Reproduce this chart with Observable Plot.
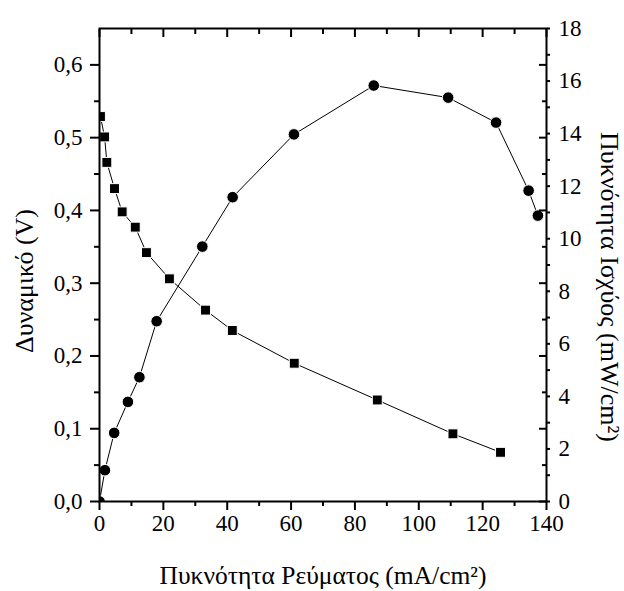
<!DOCTYPE html>
<html><head><meta charset="utf-8">
<script src="https://cdn.jsdelivr.net/npm/d3@7"></script>
<script src="https://cdn.jsdelivr.net/npm/@observablehq/plot@0.6"></script>
<style>
body{margin:0;background:#fff}
</style>
</head><body><div id="chart"></div>
<script>
// Voltage curve (left axis, squares)
const currentV = [0.3, 1.6, 2.3, 4.7, 7.1, 11.2, 14.7, 21.9, 33.2, 41.6, 61.0, 87.0, 110.7, 125.6];
const voltage  = [0.529, 0.501, 0.466, 0.430, 0.398, 0.377, 0.342, 0.306, 0.263, 0.235, 0.190, 0.1395, 0.093, 0.0676];
// Power density curve (right axis, circles)
const currentP = [0, 1.7, 4.6, 8.9, 12.5, 17.9, 32.2, 41.7, 60.9, 85.9, 109.2, 124.2, 134.4, 137.3];
const power    = [0, 1.19, 2.61, 3.79, 4.73, 6.86, 9.70, 11.58, 13.97, 15.83, 15.37, 14.42, 11.83, 10.88];

const xTicks = [0, 20, 40, 60, 80, 100, 120, 140];
const xMinor = [10, 30, 50, 70, 90, 110, 130];
const vTicks = [0, 0.1, 0.2, 0.3, 0.4, 0.5, 0.6];
const vMinor = [0.05, 0.15, 0.25, 0.35, 0.45, 0.55];
const pTicks = [0, 2, 4, 6, 8, 10, 12, 14, 16, 18];
const pMinor = [1, 3, 5, 7, 9, 11, 13, 15, 17];

const xTitle = "Πυκνότητα Ρεύματος (mA/cm²)";
const vTitle = "Δυναμικό (V)";
const pTitle = "Πυκνότητα Ισχύος (mW/cm²)";

const vMax = 0.65, pMax = 18;
const k = vMax / pMax; // maps power onto the shared y scale

const vData = currentV.map((x, i) => ({x, v: voltage[i]}));
const pData = currentP.map((x, i) => ({x, p: power[i]}));

const FONT = "'Liberation Serif', 'DejaVu Serif', serif";
const FS = 23;
const comma = d => d.toFixed(1).replace(".", ",");
const ax = {stroke: "black", strokeWidth: 2, fontSize: FS, label: null};

const chart = Plot.plot({
  width: 624,
  height: 591,
  marginLeft: 99,
  marginRight: 78,
  marginTop: 28,
  marginBottom: 90,
  style: {background: "white", color: "black"},
  x: {domain: [0, 140]},
  y: {domain: [0, vMax]},
  marks: [
    Plot.line(vData, {x: "x", y: "v", stroke: "black", strokeWidth: 1, clip: true}),
    Plot.line(pData, {x: "x", y: d => d.p * k, stroke: "black", strokeWidth: 1, clip: true}),
    Plot.dot(vData, {x: "x", y: "v", symbol: "square", r: 5.6, fill: "black", stroke: "white", strokeWidth: 1, clip: true}),
    Plot.dot(pData, {x: "x", y: d => d.p * k, symbol: "circle", r: 5.8, fill: "black", stroke: "white", strokeWidth: 1, clip: true}),
    Plot.frame({stroke: "black", strokeWidth: 2}),
    // bottom axis
    Plot.axisX({...ax, anchor: "bottom", ticks: xTicks, tickSize: 9, tickPadding: 4, tickFormat: d => String(d)}),
    Plot.axisX({...ax, anchor: "bottom", ticks: xMinor, tickSize: 5, fill: "none"}),
    // top mirror ticks (inward)
    Plot.axisX({...ax, anchor: "top", ticks: xTicks, tickSize: -8, fill: "none"}),
    Plot.axisX({...ax, anchor: "top", ticks: xMinor, tickSize: -5, fill: "none"}),
    // left axis
    Plot.axisY({...ax, anchor: "left", ticks: vTicks, tickSize: 9, tickPadding: 8, tickFormat: comma}),
    Plot.axisY({...ax, anchor: "left", ticks: vMinor, tickSize: 5, fill: "none"}),
    // right mirror ticks of left axis (inward)
    Plot.axisY({...ax, anchor: "right", ticks: vTicks, tickSize: -8, fill: "none"}),
    Plot.axisY({...ax, anchor: "right", ticks: vMinor, tickSize: -5, fill: "none"}),
    // right power axis
    Plot.axisY({...ax, anchor: "right", ticks: pTicks.map(p => p * k), tickSize: 3, tickPadding: 9,
      tickFormat: d => String(Math.round(d / k))}),
    Plot.axisY({...ax, anchor: "right", ticks: pMinor.map(p => p * k), tickSize: 3, fill: "none"}),
    // titles
    Plot.text([xTitle], {text: d => d, frameAnchor: "bottom", textAnchor: "middle", dy: 82, lineAnchor: "bottom", fontSize: 25.5, fill: "black"}),
    Plot.text([vTitle], {text: d => d, frameAnchor: "left", textAnchor: "middle", dx: -67, dy: 16, rotate: -90, lineAnchor: "bottom", fontSize: 26, fill: "black"}),
    Plot.text([pTitle], {text: d => d, frameAnchor: "right", textAnchor: "middle", dx: 54, dy: 22, rotate: 90, lineAnchor: "bottom", fontSize: 26, fill: "black"})
  ]
});
chart.style.fontFamily = FONT;
d3.select(chart).selectAll("g, text").style("font-family", FONT);
document.getElementById("chart").appendChild(chart);
</script>
</body></html>
